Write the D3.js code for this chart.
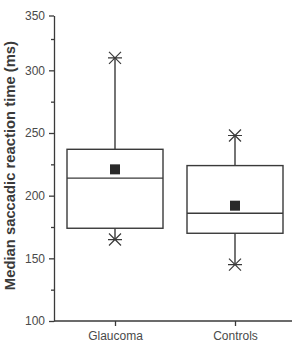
<!DOCTYPE html>
<html>
<head>
<meta charset="utf-8">
<script src="https://cdn.jsdelivr.net/npm/d3@7"></script>
<style>
  body { margin: 0; background: #fff; }
  svg { display: block; font-family: "Liberation Sans", Arial, sans-serif; }
</style>
</head>
<body>
<svg></svg>
<script>
let groups = ["Glaucoma", "Controls"];
let whiskerLow = [165, 145];
let q1 = [174, 170];
let medians = [214, 186];
let q3 = [237, 224];
let whiskerHigh = [310, 248];
let means = [221, 192];

let yMajor = [100, 150, 200, 250, 300, 350];
let yMinor = [125, 175, 225, 275, 325];

let width = 292;
let height = 354;
let ink = "#3a3a3a";

let svg = d3.select("svg").attr("width", width).attr("height", height);

// the scan squeezes the top of the axis a bit, so the scale is polylinear
let yScale = d3.scaleLinear().domain([100, 325, 350]).range([321, 39, 15.5]);
let xScale = d3.scalePoint().domain(groups).range([55, 295]).padding(0.5);
let boxWidth = xScale.step() * 0.8;

let xAxis = svg.append("g")
  .attr("transform", "translate(0," + yScale(100) + ")")
  .call(d3.axisBottom(xScale).tickSize(5).tickPadding(5).tickSizeOuter(0));
xAxis.select(".domain").attr("d", "M54,0H" + width);

let yAxis = svg.append("g")
  .attr("transform", "translate(54,0)")
  .call(d3.axisLeft(yScale).tickValues(yMajor).tickSize(5).tickPadding(4).tickSizeOuter(0));

svg.append("g")
  .attr("transform", "translate(54,0)")
  .call(d3.axisLeft(yScale).tickValues(yMinor).tickSize(3).tickFormat(""))
  .select(".domain").remove();

svg.selectAll(".domain, .tick line").attr("stroke", ink).attr("stroke-width", 1.3);
svg.selectAll(".tick text").attr("fill", "#4a4a4a").style("font-size", "12px");

svg.append("text")
  .attr("transform", "translate(15," + yScale(224) + ") rotate(-90)")
  .attr("text-anchor", "middle")
  .style("font-size", "14.8px")
  .style("font-weight", "bold")
  .attr("fill", "#3a3a3a")
  .text("Median saccadic reaction time (ms)");

let boxes = svg.append("g")
  .attr("fill", "none")
  .attr("stroke", ink)
  .attr("stroke-width", 1.4);

groups.forEach((g, i) => {
  let cx = xScale(g);
  let left = cx - boxWidth / 2;

  boxes.append("line")
    .attr("x1", cx).attr("x2", cx)
    .attr("y1", yScale(q3[i])).attr("y2", yScale(whiskerHigh[i]));
  boxes.append("line")
    .attr("x1", cx).attr("x2", cx)
    .attr("y1", yScale(q1[i])).attr("y2", yScale(whiskerLow[i]));

  boxes.append("rect")
    .attr("x", left)
    .attr("y", yScale(q3[i]))
    .attr("width", boxWidth)
    .attr("height", yScale(q1[i]) - yScale(q3[i]));

  boxes.append("line")
    .attr("x1", left).attr("x2", left + boxWidth)
    .attr("y1", yScale(medians[i])).attr("y2", yScale(medians[i]));

  [whiskerLow[i], whiskerHigh[i]].forEach(v => {
    let y = yScale(v);
    boxes.append("path")
      .attr("stroke-width", 1.2)
      .attr("d", "M" + (cx - 7) + "," + y + "H" + (cx + 7) +
        "M" + (cx - 6) + "," + (y - 6) + "L" + (cx + 6) + "," + (y + 6) +
        "M" + (cx - 6) + "," + (y + 6) + "L" + (cx + 6) + "," + (y - 6));
  });

  svg.append("rect")
    .attr("x", cx - 5)
    .attr("y", yScale(means[i]) - 5)
    .attr("width", 10)
    .attr("height", 10)
    .attr("fill", "#2a2a2a");
});
</script>
</body>
</html>
